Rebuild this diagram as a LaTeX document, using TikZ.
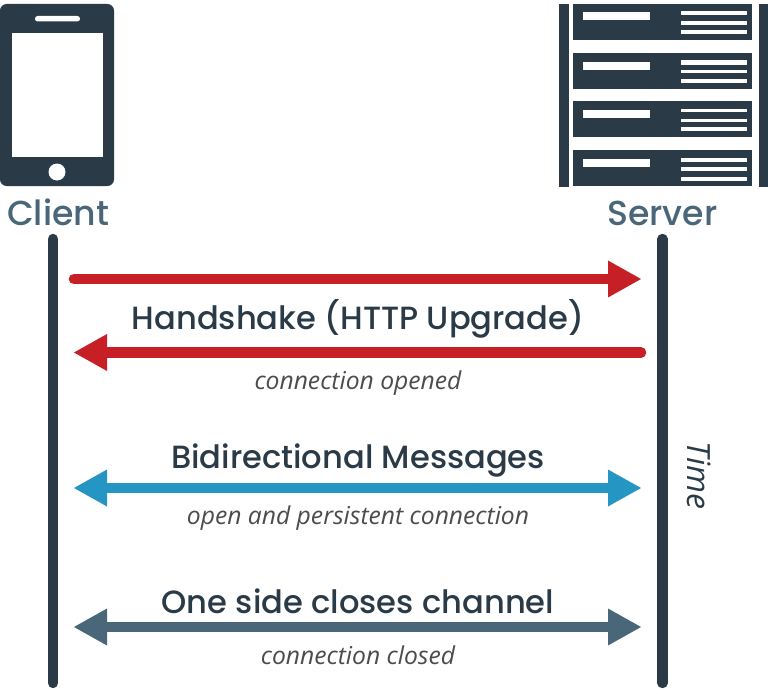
\documentclass[tikz,border=0pt]{standalone}
\usepackage{fontspec}
\setmainfont{Poppins Medium}
\newfontfamily\opensans{Open Sans}
\definecolor{dark}{HTML}{2A3A47}
\definecolor{slate}{HTML}{4A6679}
\definecolor{redc}{HTML}{C62026}
\definecolor{bluec}{HTML}{2595C4}
\tikzset{x=0.75pt,y=-0.75pt,
  icon/.style={fill=dark,draw=none},
  hole/.style={fill=white,draw=none},
  head/.style={font=\fontsize{26}{28}\selectfont,text=slate,inner sep=0pt,anchor=base},
  msg/.style={font=\fontsize{24.1}{26}\selectfont,text=dark,inner sep=0pt,anchor=base},
  sub/.style={font=\opensans\itshape\fontsize{18.5}{22}\selectfont,text=black!70,inner sep=0pt,anchor=base},
  life/.style={draw=dark,line width=7.8pt,line cap=round},
  shaft/.style={line width=8pt,line cap=round}
}
% #1 colour, #2 y, #3 tip x, #4 base x
\newcommand{\headtip}[4]{\fill[#1] (#3,#2) -- (#4,#2-18.5) -- (#4,#2+18.5) -- cycle;}
\newcommand{\serverunit}[8]{%
  \fill[icon] (573,#1) rectangle (752,#2);
  \fill[hole] (583,#3) rectangle (650,#3+8);
  \fill[hole] (681,#4) rectangle (747,#5);
  \fill[hole] (681,#6) rectangle (747,#7);
  \fill[hole] (681,#8) rectangle (747,#8+4);
}
\begin{document}
\begin{tikzpicture}
\useasboundingbox (0,0) rectangle (768,692);
% phone
\fill[icon,rounded corners=5pt] (0,4) rectangle (114,186);
\fill[hole] (12,33) rectangle (102.5,157);
\fill[hole,rounded corners=2pt] (35,16) rectangle (80,21.5);
\fill[hole] (57,172) circle (8.5*0.75pt);
% server
\fill[icon] (559,4) rectangle (569,187);
\fill[icon] (758.5,4) rectangle (768,187);
\serverunit{4}{40.5}{12.5}{11.5}{15.5}{21.5}{25}{30}
\serverunit{53}{89}{62}{60.5}{65}{70}{73}{79}
\serverunit{101.5}{137}{110}{109}{112.5}{119}{122}{127}
\serverunit{149.5}{186}{159}{158}{162}{167}{171}{177}
% labels
\node[head] (client) at (58,225) {Client};
\node[head] (server) at (662.5,225) {Server};
% lifelines
\coordinate (c1) at (53,239); \coordinate (c2) at (53,683);
\coordinate (s1) at (662.5,239); \coordinate (s2) at (662.5,683);
\draw[life] (c1) -- (c2);
\draw[life] (s1) -- (s2);
% arrows
\coordinate (a1s) at (74,279); \coordinate (a1e) at (612,279);
\draw[redc,shaft] (a1s) -- (a1e); \headtip{redc}{279}{641}{608}
\coordinate (a2s) at (641,352.5); \coordinate (a2e) at (104,352.5);
\draw[redc,shaft] (a2s) -- (a2e); \headtip{redc}{352.5}{74}{107}
\coordinate (a3s) at (104,488); \coordinate (a3e) at (612,488);
\draw[bluec,shaft,line cap=butt] (a3s) -- (a3e); \headtip{bluec}{488}{641}{608}\headtip{bluec}{488}{74}{107}
\coordinate (a4s) at (104,627); \coordinate (a4e) at (612,627);
\draw[slate,shaft,line cap=butt] (a4s) -- (a4e); \headtip{slate}{627}{641}{608}\headtip{slate}{627}{74}{107}
% texts
\node[msg] (m1) at (358,329) {Handshake (HTTP Upgrade)};
\node[sub] (s1t) at (358,389) {connection opened};
\node[msg] (m2) at (358,468.5) {Bidirectional Messages};
\node[sub] (s2t) at (358,524) {open and persistent connection};
\node[msg] (m3) at (358,613.5) {One side closes channel};
\node[sub] (s3t) at (358,664) {connection closed};
\node[sub,anchor=center,rotate=-90,font=\opensans\itshape\fontsize{24}{28}\selectfont,text=dark] (time) at (699,475) {Time};
\end{tikzpicture}
\end{document}
